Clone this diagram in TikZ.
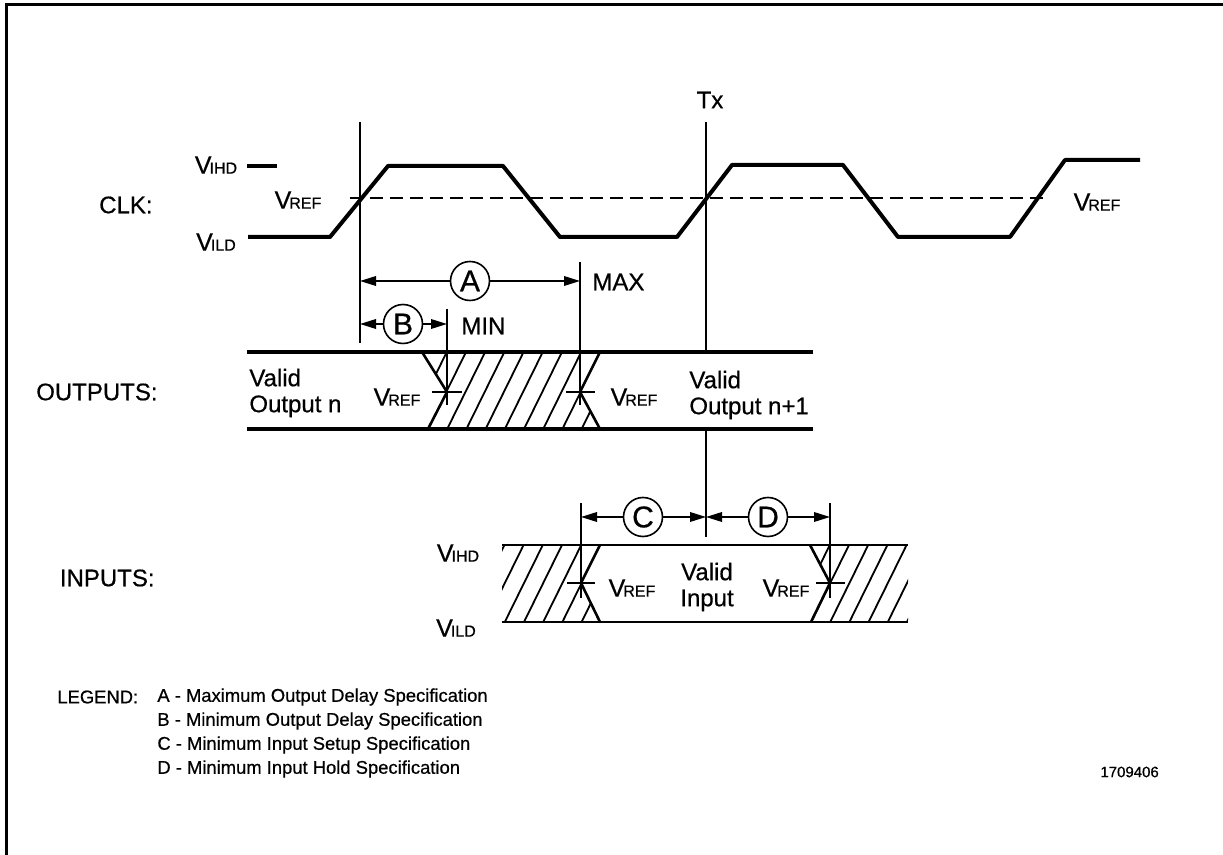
\documentclass[tikz,border=0pt]{standalone}
\usepackage{fontspec}
\setmainfont{Liberation Sans}[UprightFeatures={FakeBold=0.6}]
\usetikzlibrary{arrows.meta}
\newcommand{\Vlev}[1]{{\fontsize{12.5}{12.5}\selectfont V}\kern-1pt{\fontsize{8}{8}\selectfont #1}}
\tikzset{
  wave/.style={line width=2pt, line join=round},
  band/.style={line width=2pt},
  edge/.style={line width=1.3pt},
  hatch/.style={line width=0.9pt},
  refline/.style={line width=1pt},
  dim/.style={line width=0.8pt, {Triangle[length=8pt,width=4.8pt]}-{Triangle[length=8pt,width=4.8pt]}},
  letter/.style={circle, draw, line width=0.8pt, fill=white, minimum size=19.5pt, inner sep=0pt, font=\fontsize{15}{15}\selectfont},
  lbl/.style={inner sep=0pt, font=\fontsize{12}{13}\selectfont},
}
\begin{document}
\begin{tikzpicture}[x=0.5pt, y=-0.5pt, line cap=butt]
	\useasboundingbox (0,0) rectangle (1223,855);
	\draw[line width=1.5pt] (6,870) -- (6,5) -- (1240,5);
	%%%%%%%%%%%%%%%%%%%%%%%%%%%%%%%%%
	\coordinate (R0) at (360,122);
	\coordinate (R1) at (360,343);
	\coordinate (T0) at (706,122);
	\coordinate (T1) at (706,352);
	\coordinate (T2) at (706,429);
	\coordinate (T3) at (706,537);
	\coordinate (MX0) at (580,262);
	\coordinate (MX1) at (580,405);
	\coordinate (MN0) at (447,309);
	\coordinate (MN1) at (447,405);
	\coordinate (C0) at (581,503);
	\coordinate (C1) at (581,598);
	\coordinate (D0) at (830,503);
	\coordinate (D1) at (830,598);
	%%%%%%%%%%%%%%%%%%%%%%%%%%%%%%%%%
	% CLK
	\draw[refline, dash pattern=on 6.5pt off 3.5pt] (350,198) -- (1047,198);
	\draw[wave] (247,166) -- (277,166);
	\draw[wave] (248,237) -- (330,237) -- (388,166) -- (503,166) -- (560,237) -- (677,237)
		-- (732,165) -- (843,165) -- (898,237) -- (1010,237) -- (1065,160) -- (1140,160);
	\draw[refline] (R0) -- (R1);
	\draw[refline] (T0) -- (T1);
	\draw[refline] (T2) -- (T3);
	\draw[refline] (MX0) -- (MX1);
	\draw[refline] (MN0) -- (MN1);
	\draw[refline] (C0) -- (C1);
	\draw[refline] (D0) -- (D1);
	%%%%%%%%%%%%%%%%%%%%%%%%%%%%%%%%%
	% OUTPUTS
	\draw[band] (247,352) -- (813,352);
	\draw[band] (247,429) -- (813,429);
	\begin{scope}
		\clip (422,352) -- (447,392) -- (428,429) -- (600,429) -- (580,392) -- (600,352) -- cycle;
		\foreach \k in {-1,...,8}
			\draw[hatch] ({428+19.2*\k},429) -- ++(38,-77);
	\end{scope}
	\draw[edge] (422,352) -- (447,392) -- (428,429);
	\draw[edge] (600,352) -- (580,392) -- (600,429);
	\draw[refline] (432,392) -- (462,392);
	\draw[refline] (566,392) -- (595,392);
	%%%%%%%%%%%%%%%%%%%%%%%%%%%%%%%%%
	% INPUTS
	\draw[edge] (502,545) -- (908,545);
	\draw[edge] (502,622) -- (908,622);
	\begin{scope}
		\clip (502,545) -- (600,545) -- (581,583) -- (600,622) -- (502,622) -- cycle;
		\foreach \k in {-6,...,1}
			\draw[hatch] ({562.4+19.2*\k},622) -- ++(38,-77);
	\end{scope}
	\begin{scope}
		\clip (810,545) -- (908,545) -- (908,622) -- (811,622) -- (830,583) -- cycle;
		\foreach \k in {-1,...,5}
			\draw[hatch] ({811+19.2*\k},622) -- ++(38,-77);
	\end{scope}
	\draw[edge] (600,545) -- (581,583) -- (600,622);
	\draw[edge] (810,545) -- (830,583) -- (811,622);
	\draw[refline] (567,583) -- (595,583);
	\draw[refline] (816,583) -- (845,583);
	%%%%%%%%%%%%%%%%%%%%%%%%%%%%%%%%%
	% dimensions
	\draw[dim] (360,281) -- (580,281);
	\draw[dim] (360,324) -- (447,324);
	\draw[dim] (581,517) -- (706,517);
	\draw[dim] (706,517) -- (830,517);
	\node[letter] (cA) at (470,281) {A};
	\node[letter] (cB) at (403,324) {B};
	\node[letter] (cC) at (643,517) {C};
	\node[letter] (cD) at (768,517) {D};
	%%%%%%%%%%%%%%%%%%%%%%%%%%%%%%%%%
	% labels
	\node[lbl] (tx) at (710,100) {Tx};
	\node[lbl, anchor=west] (max) at (592,282) {MAX};
	\node[lbl, anchor=west] (min) at (461,326) {MIN};
	\node[lbl, anchor=east] (clk) at (153,205) {CLK:};
	\node[lbl, anchor=east] (outs) at (158,392) {OUTPUTS:};
	\node[lbl, anchor=east] (ins) at (155,578) {INPUTS:};
	\node[lbl] (vihd) at (216,165) {\Vlev{IHD}};
	\node[lbl] (vild) at (216,242) {\Vlev{ILD}};
	\node[lbl] (vrefa) at (298,200) {\Vlev{REF}};
	\node[lbl] (vrefb) at (1097,202) {\Vlev{REF}};
	\node[lbl] (vrefc) at (397,397) {\Vlev{REF}};
	\node[lbl] (vrefd) at (634,397) {\Vlev{REF}};
	\node[lbl] (vrefe) at (632,588) {\Vlev{REF}};
	\node[lbl] (vreff) at (786,588) {\Vlev{REF}};
	\node[lbl] (vihdi) at (458,553) {\Vlev{IHD}};
	\node[lbl] (vildi) at (456,628) {\Vlev{ILD}};
	\node[lbl, anchor=west, align=left] (outn) at (249,393) {Valid\\Output n};
	\node[lbl, anchor=west, align=left] (outm) at (689,395) {Valid\\Output n+1};
	\node[lbl, align=center] (vin) at (707,587) {Valid\\Input};
	%%%%%%%%%%%%%%%%%%%%%%%%%%%%%%%%%
	% legend
	\begin{scope}[every node/.style={inner sep=0pt, anchor=west, font=\fontsize{9.2}{9.5}\selectfont}]
		\node (leg) at (57,697) {LEGEND:};
		\node (legA) at (157,697) {A - Maximum Output Delay Specification};
		\node (legB) at (157,721) {B - Minimum Output Delay Specification};
		\node (legC) at (157,745) {C - Minimum Input Setup Specification};
		\node (legD) at (157,769) {D - Minimum Input Hold Specification};
		\node[font=\fontsize{7.5}{8}\selectfont] (num) at (1100,772) {1709406};
	\end{scope}
\end{tikzpicture}
\end{document}
